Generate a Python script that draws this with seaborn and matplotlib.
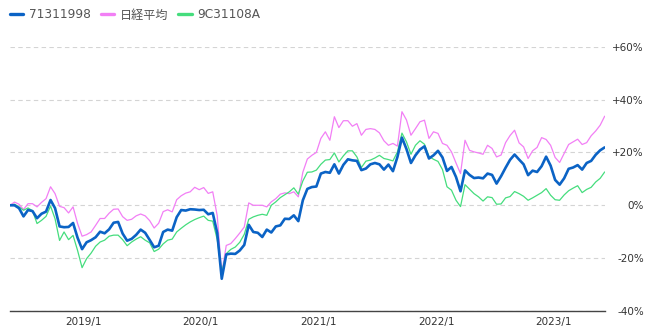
import numpy as np
import pandas as pd
import matplotlib
matplotlib.use("Agg")
import matplotlib.pyplot as plt
from matplotlib.lines import Line2D
import seaborn as sns

# Biweekly cumulative returns (%), measured from the first date
start_date = "2018-05-18"
n_points = 133
dates = pd.date_range(start_date, periods=n_points, freq="14D")

fund_71311998 = [
    0.0, 0.0, -1.1, -4.2, -1.8, -2.2, -4.9, -3.2, -2.4, 2.0,
    -1.1, -8.0, -8.3, -8.2, -6.7, -12.3, -16.6, -14.0, -13.2, -12.1,
    -10.0, -10.6, -9.1, -6.6, -6.3, -10.7, -13.4, -12.7, -11.2, -9.2,
    -10.4, -13.1, -15.9, -15.3, -10.1, -9.2, -9.6, -4.5, -1.8, -2.0,
    -1.5, -1.6, -1.8, -1.7, -3.4, -2.9, -10.5, -27.8, -18.6, -18.3,
    -18.4, -17.1, -15.0, -7.4, -10.1, -10.4, -12.0, -9.2, -10.3, -8.0,
    -7.6, -5.1, -5.2, -3.8, -6.0, 1.9, 6.2, 6.9, 7.1, 12.0,
    12.6, 12.3, 15.5, 12.0, 15.3, 17.4, 17.0, 16.8, 13.3, 13.9,
    15.5, 16.0, 15.5, 13.5, 15.4, 12.9, 18.3, 25.6, 21.3, 16.0,
    18.9, 21.1, 22.3, 17.7, 18.9, 20.6, 18.1, 13.0, 14.5, 10.7,
    5.3, 13.2, 11.5, 10.3, 10.5, 10.2, 12.0, 11.5, 8.2, 11.0,
    14.2, 17.2, 19.2, 17.3, 15.5, 11.4, 13.1, 12.6, 14.8, 18.4,
    15.0, 9.6, 7.8, 10.2, 13.8, 14.3, 15.2, 13.5, 16.0, 16.8,
    19.1, 20.8, 21.9,
]

nikkei_avg = [
    0.0, 1.2, 0.4, -1.6, 0.6, 0.6, -0.6, 1.1, 2.5, 7.0,
    4.4, -0.4, -0.9, -2.9, -0.6, -6.9, -11.7, -11.1, -10.1, -7.6,
    -5.0, -5.0, -3.0, -1.5, -1.4, -4.3, -5.7, -5.3, -4.0, -3.3,
    -4.0, -5.8, -8.6, -6.8, -2.4, -1.7, -2.5, 2.1, 3.6, 4.6,
    5.1, 6.8, 5.9, 6.7, 4.5, 5.1, -4.0, -25.9, -15.2, -14.5,
    -12.6, -10.5, -8.2, 0.9, 0.0, 0.0, 0.0, -0.6, 1.3, 2.5,
    4.2, 4.7, 4.4, 5.1, 3.2, 12.5, 17.5, 18.9, 20.0, 25.3,
    27.8, 24.6, 33.5, 29.4, 32.0, 32.0, 29.9, 30.9, 26.5, 28.7,
    29.0, 28.7, 27.4, 24.4, 22.7, 23.4, 22.4, 35.4, 32.3, 26.5,
    29.0, 31.6, 32.2, 25.3, 27.8, 27.2, 23.4, 22.7, 20.2, 16.0,
    12.0, 24.6, 20.8, 20.2, 19.8, 19.3, 22.7, 21.5, 18.3, 19.0,
    23.7, 26.4, 28.4, 23.6, 22.1, 17.7, 20.6, 21.9, 25.6, 24.9,
    22.7, 18.1, 16.2, 19.6, 23.0, 24.0, 25.0, 23.0, 23.7, 26.3,
    28.1, 30.3, 33.7,
]

fund_9c31108a = [
    0.0, 0.4, -0.6, -1.9, -1.0, -2.1, -6.9, -5.7, -4.2, -0.3,
    -5.1, -13.3, -10.1, -13.0, -11.4, -17.1, -23.6, -20.2, -18.1, -15.5,
    -13.9, -13.2, -11.7, -11.3, -11.3, -13.0, -15.3, -13.9, -12.8, -11.9,
    -13.2, -14.2, -17.5, -16.6, -14.6, -13.2, -12.8, -10.1, -8.7, -7.4,
    -6.3, -5.4, -4.7, -4.1, -5.7, -6.0, -13.0, -25.3, -18.3, -16.7,
    -15.8, -14.0, -11.0, -5.3, -4.4, -3.8, -3.4, -3.8, 0.0, 1.3,
    2.9, 4.0, 5.1, 6.6, 4.2, 9.2, 12.5, 12.6, 13.3, 15.5,
    17.1, 17.3, 19.8, 16.4, 18.7, 20.6, 20.6, 18.3, 14.3, 16.7,
    17.1, 17.9, 18.9, 17.7, 17.3, 16.8, 20.2, 27.3, 24.0, 19.3,
    22.7, 24.4, 23.1, 18.5, 17.4, 16.6, 13.5, 7.0, 5.7, 1.9,
    -0.5, 7.8, 6.1, 4.4, 3.2, 1.6, 3.2, 2.9, 0.4, 0.5,
    2.8, 3.3, 5.2, 4.4, 3.4, 1.9, 2.8, 3.8, 4.8, 6.3,
    3.8, 2.1, 1.9, 3.9, 5.5, 6.5, 7.4, 4.8, 6.0, 6.8,
    8.8, 10.2, 12.6,
]

series_names = ["71311998", "日経平均", "9C31108A"]
series_colors = ["#0b63c5", "#f27ff5", "#45dd7d"]
series_widths = [1.9, 0.9, 0.9]

y_ticks = [-40, -20, 0, 20, 40, 60]
y_tick_labels = ["-40%", "-20%", "0%", "+20%", "+40%", "+60%"]
x_tick_years = [2019, 2020, 2021, 2022, 2023]
x_tick_labels = ["2019/1", "2020/1", "2021/1", "2022/1", "2023/1"]

df = pd.DataFrame({
    "date": np.tile(dates, 3),
    "series": np.repeat(series_names, n_points),
    "value": np.concatenate([fund_71311998, nikkei_avg, fund_9c31108a]),
})

sns.set_theme(style="white")
plt.rcParams["font.family"] = ["DejaVu Sans", "Noto Sans CJK JP"]

fig = plt.figure(figsize=(6.63, 3.32), dpi=100)
ax = fig.add_axes([10 / 663, 21 / 332, 595 / 663, 264.3 / 332])

# draw the index and the second fund first so the main fund sits on top
for name in [series_names[1], series_names[2], series_names[0]]:
    k = series_names.index(name)
    sns.lineplot(
        data=df[df["series"] == name], x="date", y="value",
        color=series_colors[k], linewidth=series_widths[k],
        ax=ax, legend=False, zorder=3 + (k == 0),
    )

ax.set_xlim(dates[0], dates[-1] + pd.Timedelta(days=1))
ax.set_ylim(-40, 60)
ax.set_xlabel("")
ax.set_ylabel("")

ax.set_yticks(y_ticks)
ax.set_yticklabels(y_tick_labels)
ax.yaxis.tick_right()
ax.tick_params(axis="y", length=0, pad=28, labelsize=7.5, colors="#333333",
               labelright=True, labelleft=False)
for lbl in ax.get_yticklabels():
    lbl.set_horizontalalignment("right")

ax.set_xticks([pd.Timestamp(f"{y}-01-01") for y in x_tick_years])
ax.set_xticklabels(x_tick_labels)
ax.tick_params(axis="x", length=0, pad=4.5, labelsize=7.5, colors="#333333")

ax.grid(axis="y", color="#d4d4d4", linestyle=(0, (4, 3)), linewidth=0.8)
ax.grid(axis="x", visible=False)
for side in ["left", "right", "top"]:
    ax.spines[side].set_visible(False)
ax.spines["bottom"].set_color("#444444")
ax.spines["bottom"].set_linewidth(1.0)

handles = [Line2D([0], [0], color=c, linewidth=2.4) for c in series_colors]
leg = fig.legend(
    handles, series_names, loc="center left",
    bbox_to_anchor=(10 / 663, 1 - 15 / 332), ncol=3, frameon=False,
    fontsize=8.7, handlelength=1.1, handletextpad=0.45, columnspacing=0.85,
    borderpad=0, borderaxespad=0,
)
for t in leg.get_texts():
    t.set_color("#555555")

fig.savefig("out.png", dpi=100)
